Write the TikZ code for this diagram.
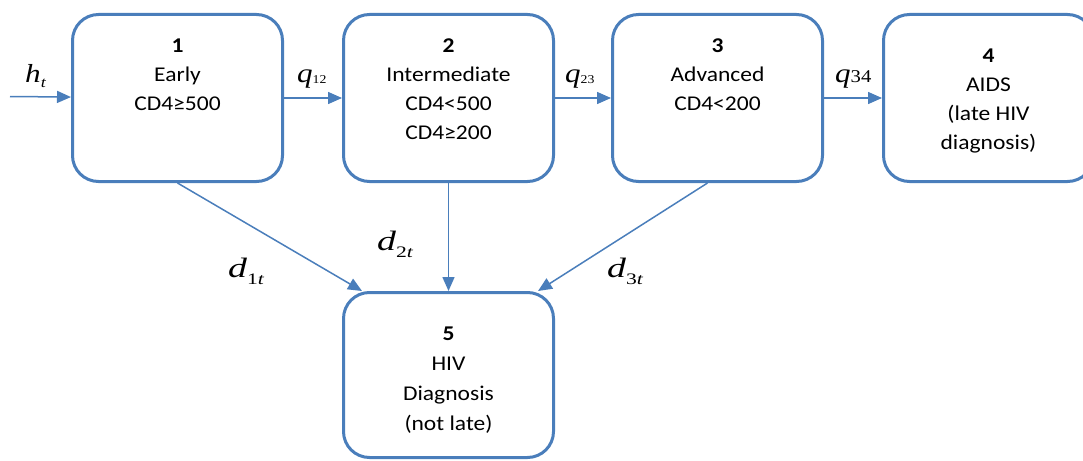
\documentclass[tikz,border=0pt]{standalone}
\usepackage{fontspec}
\usepackage{graphicx}
\setmainfont[FakeStretch=1.12]{Carlito}
\newfontfamily\tmfont{Liberation Serif}
\usetikzlibrary{arrows.meta,calc}
\definecolor{boxblue}{RGB}{74,126,187}
\newcommand\fl{\rule{0pt}{14pt}}
\begin{document}
\begin{tikzpicture}[x=1pt,y=-1pt,
  stbox/.style={draw=boxblue, line width=3pt, rounded corners=26pt, minimum width=210pt, minimum height=167pt, inner sep=0pt, anchor=north west},
  btxt/.style={align=center, inner sep=0pt, anchor=north, font=\fontsize{21}{29}\selectfont},
  conn/.style={draw=boxblue, line width=1.5pt, -{Triangle[length=14pt,width=12pt]}},
  lbl/.style={anchor=base west, inner sep=0pt}]
\useasboundingbox (0,0) rectangle (1083,460);
\clip (0,0) rectangle (1083,460);
\node[stbox] (b1) at (71,13) {};
\node[stbox] (b2) at (342,13) {};
\node[stbox] (b3) at (611,13) {};
\node[stbox] (b4) at (882,13) {};
\node[stbox, minimum height=165pt] (b5) at (342,291) {};
\node[btxt] (t1) at (b1.north |- 0,38) {\fl\textbf{1}\\Early\\CD4≥500};
\node[btxt] (t2) at (b2.north |- 0,38) {\fl\textbf{2}\\Intermediate\\CD4<500\\CD4≥200};
\node[btxt] (t3) at (b3.north |- 0,38) {\fl\textbf{3}\\Advanced\\CD4<200};
\node[btxt] (t4) at (b4.north |- 0,48) {\fl\textbf{4}\\AIDS\\(late HIV\\diagnosis)};
\node[btxt, font=\fontsize{21}{30}\selectfont] (t5) at (b5.north |- 0,326) {\fl\textbf{5}\\HIV\\Diagnosis\\(not late)};
\coordinate (start) at (10,96.5);
\draw[conn] (start) -- (b1);
\draw[conn] (b1) -- (b2);
\draw[conn] (b2) -- (b3);
\draw[conn] (b3) -- (b4);
\draw[conn] (b2.south) -- (b5.north);
\draw[conn] (b1.south) -- ($(b5.north west)+(20,0)$);
\draw[conn] ($(b3.south)+(-10,0)$) -- ($(b5.north east)+(-17,0)$);
\node[lbl] (lh) at (25,82) {\scalebox{1.2}[1]{\tmfont\itshape\fontsize{26}{26}\selectfont h\raisebox{-5pt}{\fontsize{15}{15}\selectfont t}}};
\node[lbl] (lq12) at (297,82) {\scalebox{1.15}[1]{\tmfont\fontsize{27}{27}\selectfont\itshape q\upshape\raisebox{-1pt}{\fontsize{12}{12}\selectfont 12}}};
\node[lbl] (lq23) at (565,82) {\scalebox{1.15}[1]{\tmfont\fontsize{27}{27}\selectfont\itshape q\upshape\raisebox{-1pt}{\fontsize{12}{12}\selectfont 23}}};
\node[lbl] (lq34) at (835,82) {\scalebox{1.15}[1]{\tmfont\fontsize{27}{27}\selectfont\itshape q\upshape{\fontsize{18}{18}\selectfont 34}}};
\node[lbl] (ld2) at (377,250) {\scalebox{1.35}[1]{\tmfont\fontsize{28}{28}\selectfont\itshape d\raisebox{-7pt}{\fontsize{16}{16}\selectfont\upshape 2\itshape t}}};
\node[lbl] (ld1) at (228,277) {\scalebox{1.35}[1]{\tmfont\fontsize{28}{28}\selectfont\itshape d\raisebox{-7pt}{\fontsize{16}{16}\selectfont\upshape 1\itshape t}}};
\node[lbl] (ld3) at (607,277) {\scalebox{1.35}[1]{\tmfont\fontsize{28}{28}\selectfont\itshape d\raisebox{-7pt}{\fontsize{16}{16}\selectfont\upshape 3\itshape t}}};
\end{tikzpicture}
\end{document}
